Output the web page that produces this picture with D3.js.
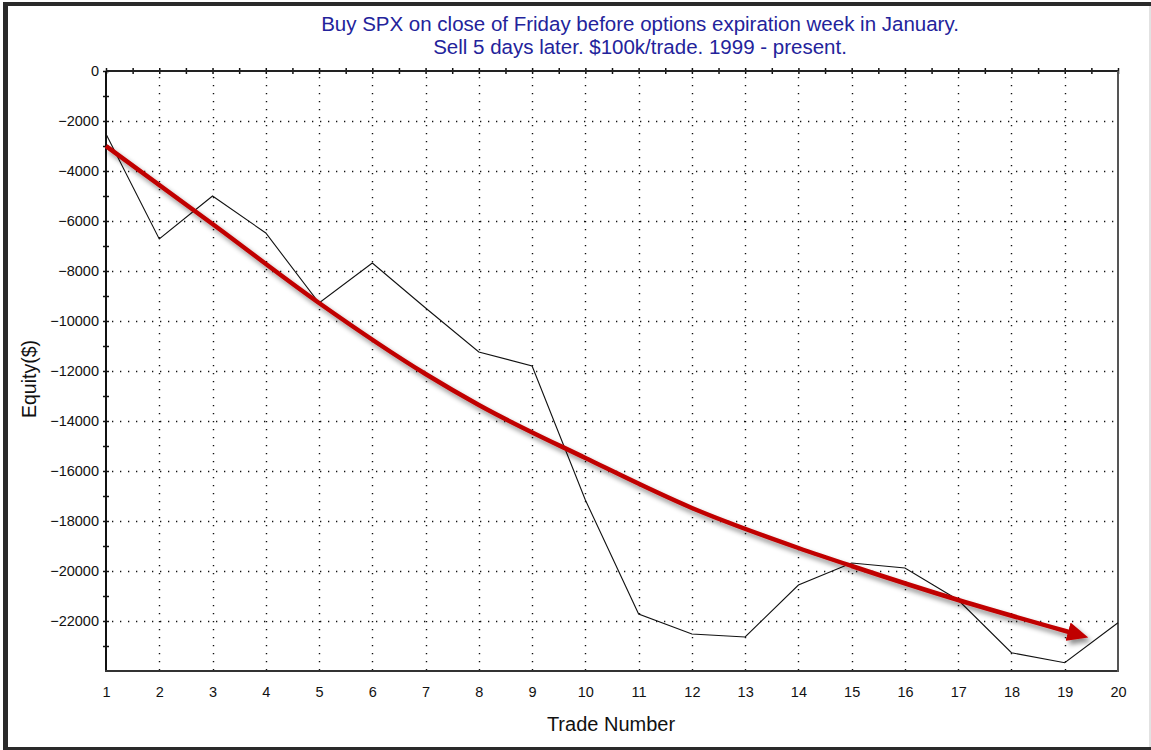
<!DOCTYPE html>
<html>
<head>
<meta charset="utf-8">
<script src="https://cdn.jsdelivr.net/npm/d3@7"></script>
<style>
  body { margin: 0; background: #fff; }
  svg { display: block; font-family: "Liberation Sans", Arial, sans-serif; }
</style>
</head>
<body>
<div id="chart"></div>
<script>
const titleLines = [
  "Buy SPX on close of Friday before options expiration week in January.",
  "Sell 5 days later. $100k/trade. 1999 - present.",
];

const trades = [1, 2, 3, 4, 5, 6, 7, 8, 9, 10, 11, 12, 13, 14, 15, 16, 17, 18, 19, 20];
const equity = [
  -2520, -6720, -5000, -6480, -9280, -7680, -9480, -11240, -11800, -17160,
  -21720, -22520, -22640, -20560, -19680, -19880, -21160, -23270, -23670, -22070,
];

// hand drawn trend arrow (trade number, equity)
const trendTrade = [1, 3, 5, 7, 8, 10, 12, 14, 15, 17, 19.08];
const trendEquity = [-3000, -6120, -9280, -12120, -13360, -15480, -17480, -19080, -19800, -21160, -22440];

const yMajor = [0, -2000, -4000, -6000, -8000, -10000, -12000, -14000, -16000, -18000, -20000, -22000];
const yMinor = [-1000, -3000, -5000, -7000, -9000, -11000, -13000, -15000, -17000, -19000, -21000, -23000];
const xHalf = [1.5, 2.5, 3.5, 4.5, 5.5, 6.5, 7.5, 8.5, 9.5, 10.5, 11.5, 12.5, 13.5, 14.5, 15.5, 16.5, 17.5, 18.5, 19.5];

const W = 1151, H = 750;
const plot = { left: 106, top: 71, right: 1118, bottom: 671 };

const svg = d3.select("#chart").append("svg").attr("width", W).attr("height", H);

// window frame
svg.append("rect").attr("x", 3).attr("y", 2).attr("width", W - 3).attr("height", H - 2).attr("fill", "#2a2a2a");
svg.append("rect").attr("x", 8).attr("y", 6).attr("width", W - 8).attr("height", H - 9).attr("fill", "#fff");
svg.append("rect").attr("x", W - 2).attr("y", 6).attr("width", 2).attr("height", H - 9).attr("fill", "#e2e2e2");

const x = d3.scaleLinear().domain([1, 20]).range([plot.left, plot.right]);
const y = d3.scaleLinear().domain([0, -24000]).range([plot.top, plot.bottom]);

// title
svg.append("g")
  .selectAll("text")
  .data(titleLines)
  .enter()
  .append("text")
  .attr("x", 640)
  .attr("y", (d, i) => 31 + i * 23)
  .attr("text-anchor", "middle")
  .attr("font-size", 20.5)
  .attr("fill", "#23239b")
  .text((d) => d);

// dotted grid
const grid = svg.append("g").attr("stroke", "#111").attr("stroke-width", 1.4).attr("stroke-dasharray", "1.3,6.7");
grid.selectAll(".gx")
  .data(trades.filter((t) => t > 1 && t < 20))
  .enter()
  .append("line")
  .attr("x1", (d) => Math.round(x(d)) + 0.5)
  .attr("x2", (d) => Math.round(x(d)) + 0.5)
  .attr("y1", plot.top + 6)
  .attr("y2", plot.bottom);
grid.selectAll(".gy")
  .data(yMajor.filter((v) => v < 0))
  .enter()
  .append("line")
  .attr("y1", (d) => Math.round(y(d)) + 0.5)
  .attr("y2", (d) => Math.round(y(d)) + 0.5)
  .attr("x1", plot.left + 6)
  .attr("x2", plot.right);

// axes
const tickStyle = (g) => {
  g.select(".domain").remove();
  g.selectAll("line").attr("stroke", "#111").attr("stroke-width", 1.5);
  g.selectAll("text").attr("fill", "#111").attr("font-size", 14.5).attr("font-family", "Liberation Sans, Arial, sans-serif");
};

svg.append("g")
  .attr("transform", `translate(${plot.left},0)`)
  .call(d3.axisLeft(y).tickValues(yMajor).tickSize(3).tickPadding(4).tickFormat(d3.format("d")))
  .call(tickStyle);
svg.append("g")
  .attr("transform", `translate(${plot.left},0)`)
  .call(d3.axisLeft(y).tickValues(yMinor).tickSize(3).tickFormat(""))
  .call(tickStyle);
svg.append("g")
  .attr("transform", `translate(${plot.left},0)`)
  .call(d3.axisRight(y).tickValues(yMajor.concat(yMinor)).tickSize(3).tickFormat(""))
  .call(tickStyle);

svg.append("g")
  .attr("transform", `translate(0,${plot.top})`)
  .call(d3.axisTop(x).tickValues(trades.concat(xHalf)).tickSize(3).tickFormat(""))
  .call(tickStyle);
svg.append("g")
  .attr("transform", `translate(0,${plot.top})`)
  .call(d3.axisBottom(x).tickValues(trades.concat(xHalf)).tickSize(3).tickFormat(""))
  .call(tickStyle);

svg.append("g")
  .attr("transform", `translate(0,${plot.bottom})`)
  .call(d3.axisBottom(x).tickValues(trades).tickSize(0).tickPadding(16).tickFormat(d3.format("d")))
  .call(tickStyle);

// plot frame
svg.append("line").attr("x1", plot.left).attr("x2", plot.right + 1).attr("y1", plot.top).attr("y2", plot.top)
  .attr("stroke", "#222").attr("stroke-width", 2);
svg.append("line").attr("x1", plot.left).attr("x2", plot.left).attr("y1", plot.top).attr("y2", plot.bottom + 1)
  .attr("stroke", "#111").attr("stroke-width", 2);
svg.append("line").attr("x1", plot.left - 1).attr("x2", plot.right + 1).attr("y1", plot.bottom).attr("y2", plot.bottom)
  .attr("stroke", "#333").attr("stroke-width", 2);
svg.append("line").attr("x1", plot.right).attr("x2", plot.right).attr("y1", plot.top).attr("y2", plot.bottom + 1)
  .attr("stroke", "#555").attr("stroke-width", 2);

// equity line
const line = d3.line().x((d, i) => x(trades[i])).y((d) => y(d));
svg.append("path")
  .datum(equity)
  .attr("d", line)
  .attr("fill", "none")
  .attr("stroke", "#111")
  .attr("stroke-width", 1.1);

// red trend arrow with shadow
const defs = svg.append("defs");
const shadow = defs.append("filter").attr("id", "shadow")
  .attr("x", "-10%").attr("y", "-10%").attr("width", "130%").attr("height", "130%");
shadow.append("feDropShadow")
  .attr("dx", 3).attr("dy", 4).attr("stdDeviation", 2.5)
  .attr("flood-color", "#000").attr("flood-opacity", 0.45);

defs.append("marker")
  .attr("id", "head")
  .attr("viewBox", "0 -10 21 20")
  .attr("refX", 1)
  .attr("refY", 0)
  .attr("markerWidth", 21)
  .attr("markerHeight", 20)
  .attr("markerUnits", "userSpaceOnUse")
  .attr("orient", "auto")
  .append("path")
  .attr("d", "M0,-9.5 L21,0 L0,9.5 Z")
  .attr("fill", "#c00000");

const trendLine = d3.line()
  .x((d, i) => x(trendTrade[i]))
  .y((d) => y(d))
  .curve(d3.curveMonotoneX);

svg.append("g")
  .attr("filter", "url(#shadow)")
  .append("path")
  .datum(trendEquity)
  .attr("d", trendLine)
  .attr("fill", "none")
  .attr("stroke", "#c00000")
  .attr("stroke-width", 4.5)
  .attr("marker-end", "url(#head)");

// axis titles
svg.append("text")
  .attr("transform", "translate(36,379) rotate(-90)")
  .attr("text-anchor", "middle")
  .attr("font-size", 19.5)
  .attr("fill", "#111")
  .text("Equity($)");
svg.append("text")
  .attr("x", 611)
  .attr("y", 731)
  .attr("text-anchor", "middle")
  .attr("font-size", 20)
  .attr("fill", "#111")
  .text("Trade Number");
</script>
</body>
</html>
